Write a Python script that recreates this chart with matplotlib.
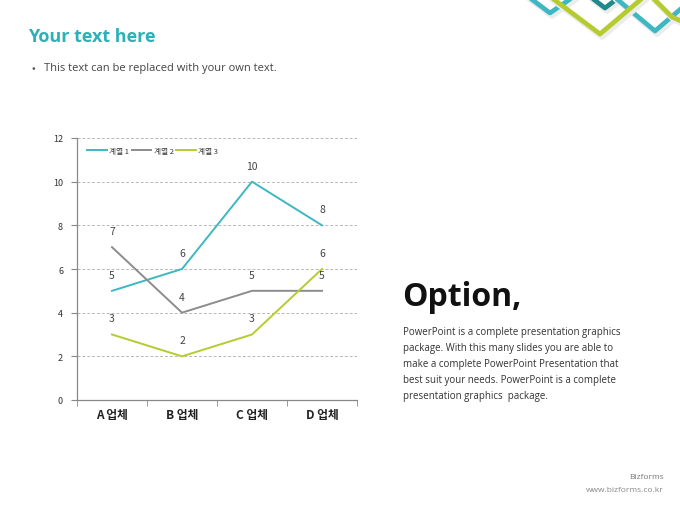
import matplotlib.pyplot as plt
import numpy as np
from matplotlib.lines import Line2D

plt.rcParams['font.family'] = ['Noto Sans CJK KR', 'DejaVu Sans']

# chart data
categories = ['A 업체', 'B 업체', 'C 업체', 'D 업체']
series_names = ['계열 1', '계열 2', '계열 3']
series1 = [5, 6, 10, 8]
series2 = [7, 4, 5, 5]
series3 = [3, 2, 3, 6]
y_ticks = [0, 2, 4, 6, 8, 10, 12]

colors = ['#3db8c2', '#8c8c8c', '#b6cc2e']

W, H = 680, 510


def px(x, y):
    # pixel position -> figure fraction
    return x / W, 1 - y / H


fig = plt.figure(figsize=(6.8, 5.1), dpi=100)
fig.patch.set_facecolor('white')

# top-right decoration (zigzag ribbons)
deco = [
    ('#3db8c2', [(526, -4), (550, 14), (576, -4)]),
    ('#1f8a8c', [(588, -4), (605, 9), (622, -4)]),
    ('#3db8c2', [(612, -4), (655, 32), (690, 2)]),
    ('#b6cc2e', [(548, -4), (600, 35), (646, -4)]),
    ('#b6cc2e', [(650, -4), (672, 18), (690, 26)]),
]
for c, pts in deco:
    xs = [px(x, y)[0] for x, y in pts]
    ys = [px(x, y)[1] for x, y in pts]
    fig.add_artist(Line2D([x + 0.003 for x in xs], [y - 0.006 for y in ys],
                          color='#ececec', lw=4, solid_joinstyle='round',
                          solid_capstyle='round'))
    fig.add_artist(Line2D(xs, ys, color=c, lw=3.4, solid_joinstyle='round',
                          solid_capstyle='round'))

sans = ['Open Sans', 'DejaVu Sans']

# header text
fig.text(*px(28, 37), 'Your text here', fontsize=13, fontweight='bold',
         color='#2cb1b9', va='center', ha='left', family=sans)
fig.text(*px(31, 69), '•', fontsize=7.5, color='#555555', va='center', ha='left')
fig.text(*px(44, 69), 'This text can be replaced with your own text.', fontsize=8,
         color='#444444', va='center', ha='left', family=sans)

# right text block
fig.text(*px(402, 298), 'Option,', fontsize=23, fontweight='bold', color='#111111',
         va='center', ha='left', family=sans)
para = [
    'PowerPoint is a complete presentation graphics',
    'package. With this many slides you are able to',
    'make a complete PowerPoint Presentation that',
    'best suit your needs. PowerPoint is a complete',
    'presentation graphics  package.',
]
for i, line in enumerate(para):
    fig.text(*px(403, 333 + i * 15.8), line, fontsize=7.0, color='#333333',
             va='center', ha='left', family=sans)

fig.text(*px(664, 478), 'Bizforms', fontsize=6, color='#777777', ha='right', va='center',
         family=sans)
fig.text(*px(664, 491), 'www.bizforms.co.kr', fontsize=6, color='#888888', ha='right',
         va='center', family=sans)

# chart
ax = fig.add_axes([77 / W, 1 - 401 / H, (357 - 77) / W, (401 - 139) / H])
x = np.arange(len(categories))
all_series = [series1, series2, series3]
for vals, name, c in zip(all_series, series_names, colors):
    ax.plot(x, vals, color=c, lw=1.4, label=name)
    for xi, v in zip(x, vals):
        ax.annotate(str(v), (xi, v), xytext=(0, 8), textcoords='offset points',
                    ha='center', va='bottom', fontsize=7.5, color='#444444')

ax.set_xlim(-0.5, len(categories) - 0.5)
ax.set_ylim(0, 12)
ax.set_yticks(y_ticks)
ax.set_yticklabels([str(t) for t in y_ticks], fontsize=6.5, color='#333333')
ax.set_xticks(x)
ax.set_xticklabels(categories, fontsize=8.5, fontweight='bold', color='#222222')
ax.set_xticks(np.arange(-0.5, len(categories), 1), minor=True)
ax.tick_params(axis='x', which='major', length=0, pad=6)
ax.tick_params(axis='x', which='minor', length=4, color='#888888', direction='out')
ax.tick_params(axis='y', length=4, color='#888888', pad=6)
for s in ['top', 'right']:
    ax.spines[s].set_visible(False)
for s in ['left', 'bottom']:
    ax.spines[s].set_color('#888888')
    ax.spines[s].set_linewidth(0.9)
ax.yaxis.grid(True, ls=(0, (3, 2)), color='#b8b8b8', lw=0.7)
ax.set_axisbelow(True)

leg = ax.legend(loc='upper left', bbox_to_anchor=(0.02, 0.985), ncol=3, frameon=False,
                fontsize=5.5, handlelength=2.6, handletextpad=0.3, columnspacing=0.3,
                borderaxespad=0.2)
for t in leg.get_texts():
    t.set_color('#333333')

fig.savefig('out.png', dpi=100, facecolor='white')
